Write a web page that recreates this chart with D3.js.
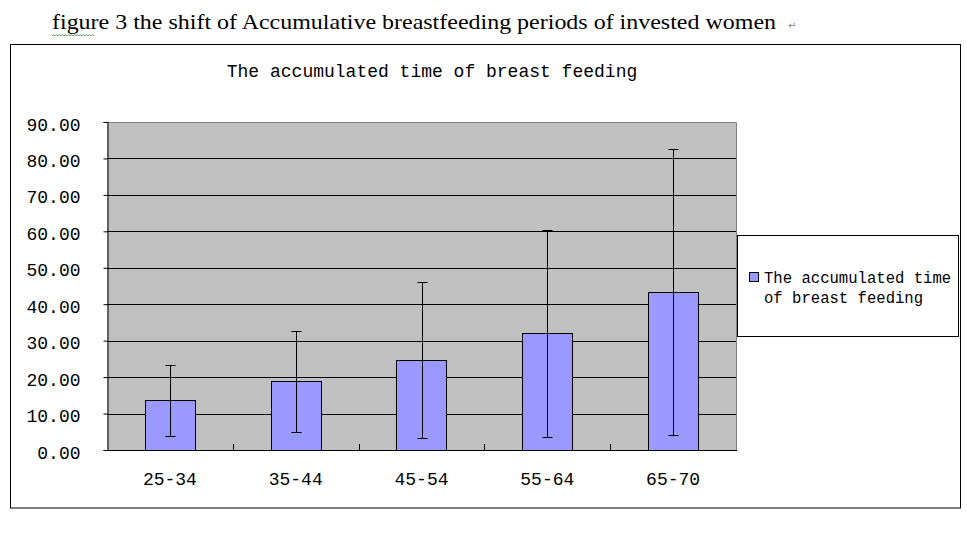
<!DOCTYPE html>
<html>
<head>
<meta charset="utf-8">
<script src="https://cdn.jsdelivr.net/npm/d3@7"></script>
<style>
  html, body { margin: 0; padding: 0; background: #ffffff; }
  svg { display: block; }
</style>
</head>
<body>
<script>
// ---- data ----
const categories = ["25-34", "35-44", "45-54", "55-64", "65-70"];
const meanValues = [13.6, 18.8, 24.7, 32.0, 43.3];
const errorValues = [9.8, 13.9, 21.5, 28.4, 39.3];
const yTicks = [0, 10, 20, 30, 40, 50, 60, 70, 80, 90];
const seriesName = "The accumulated time of breast feeding";
const chartTitle = "The accumulated time of breast feeding";
const captionText = "figure 3 the shift of Accumulative breastfeeding periods of invested women";

const W = 967, H = 534;
const svg = d3.select("body").append("svg").attr("width", W).attr("height", H);

const plot = { left: 107, right: 736, top: 122, bottom: 450 };
const mono = "'Liberation Mono', 'DejaVu Sans Mono', monospace";

// caption above chart
svg.append("text")
  .attr("x", 52).attr("y", 29)
  .attr("font-family", "'Liberation Serif', 'DejaVu Serif', serif")
  .attr("font-size", 21)
  .attr("textLength", 724).attr("lengthAdjust", "spacingAndGlyphs")
  .attr("fill", "#000")
  .text(captionText);
// wavy underline under "figure"
(function () {
  let p = "M52,36";
  for (let x = 52; x < 92; x += 3) p += ` L${x + 1.5},34.5 L${x + 3},36`;
  svg.append("path").attr("d", p).attr("fill", "none").attr("stroke", "#3a9a3a").attr("stroke-width", 0.8);
})();
svg.append("text")
  .attr("x", 788).attr("y", 29)
  .attr("font-family", "'DejaVu Sans', sans-serif")
  .attr("font-size", 10).attr("fill", "#888")
  .text("\u21B5");

// chart outer border
svg.append("rect")
  .attr("x", 10.5).attr("y", 44.5).attr("width", 950).attr("height", 463.5)
  .attr("fill", "#fff").attr("stroke", "#000").attr("stroke-width", 1);

// chart title
svg.append("text")
  .attr("x", 432).attr("y", 77)
  .attr("text-anchor", "middle")
  .attr("font-family", mono).attr("font-size", 18)
  .attr("fill", "#000")
  .text(chartTitle);

// scales
const x = d3.scaleBand().domain(categories).range([plot.left, plot.right]).padding(0);
const y = d3.scaleLinear().domain([0, 90]).range([plot.bottom, plot.top]);
const barW = x.bandwidth() / 2.5;

// plot background
svg.append("rect")
  .attr("x", plot.left).attr("y", plot.top)
  .attr("width", plot.right - plot.left).attr("height", plot.bottom - plot.top)
  .attr("fill", "#c0c0c0");
// gray top/right frame
svg.append("path")
  .attr("d", `M${plot.left},${plot.top + 0.5} H${plot.right + 0.5} V${plot.bottom}`)
  .attr("fill", "none").attr("stroke", "#808080").attr("stroke-width", 1);

// gridlines
svg.append("g").selectAll("line")
  .data(yTicks.filter(t => t > 0 && t < 90))
  .join("line")
  .attr("x1", plot.left).attr("x2", plot.right)
  .attr("y1", d => Math.round(y(d)) + 0.5).attr("y2", d => Math.round(y(d)) + 0.5)
  .attr("stroke", "#000").attr("stroke-width", 1);

// y axis
const yAxis = d3.axisLeft(y).tickValues(yTicks).tickFormat(d => d3.format(".2f")(d)).tickSize(4).tickPadding(23);
const gy = svg.append("g").attr("transform", `translate(${plot.left + 0.5},0)`).call(yAxis);
gy.select(".domain").attr("stroke", "#000");
gy.selectAll(".tick line").attr("stroke", "#000");
gy.selectAll(".tick text")
  .attr("font-family", mono).attr("font-size", 18).attr("fill", "#000").attr("dy", "0.45em");

// bars
svg.append("g").selectAll("rect")
  .data(categories)
  .join("rect")
  .attr("x", (d) => Math.round(x(d) + (x.bandwidth() - barW) / 2) + 0.5)
  .attr("y", (d, i) => Math.round(y(meanValues[i])) + 0.5)
  .attr("width", Math.round(barW))
  .attr("height", (d, i) => Math.round(y(0)) - Math.round(y(meanValues[i])))
  .attr("fill", "#9999ff").attr("stroke", "#000").attr("stroke-width", 1);

// error bars
const eg = svg.append("g").attr("stroke", "#000").attr("stroke-width", 1);
categories.forEach((c, i) => {
  const cx = Math.round(x(c) + x.bandwidth() / 2) + 0.5;
  const yHi = Math.round(y(meanValues[i] + errorValues[i])) + 0.5;
  const yLo = Math.round(y(meanValues[i] - errorValues[i])) + 0.5;
  eg.append("line").attr("x1", cx).attr("x2", cx).attr("y1", yHi).attr("y2", yLo);
  eg.append("line").attr("x1", cx - 5).attr("x2", cx + 5).attr("y1", yHi).attr("y2", yHi);
  eg.append("line").attr("x1", cx - 5).attr("x2", cx + 5).attr("y1", yLo).attr("y2", yLo);
});

// x axis
const gx = svg.append("g").attr("transform", `translate(0,${Math.round(plot.bottom) + 0.5})`)
  .call(d3.axisBottom(x).tickSize(0).tickPadding(22));
gx.select(".domain").attr("stroke", "#000").attr("d", `M${plot.left},0H${plot.right + 1}`);
gx.selectAll(".tick text")
  .attr("font-family", mono).attr("font-size", 18).attr("fill", "#000");
// inner ticks at category boundaries
svg.append("g").selectAll("line")
  .data(categories.slice(1))
  .join("line")
  .attr("x1", d => Math.round(x(d)) + 0.5).attr("x2", d => Math.round(x(d)) + 0.5)
  .attr("y1", plot.bottom).attr("y2", plot.bottom - 6)
  .attr("stroke", "#000");

// legend
const lg = svg.append("g");
lg.append("rect")
  .attr("x", 737.5).attr("y", 235.5).attr("width", 221).attr("height", 101)
  .attr("fill", "#fff").attr("stroke", "#000");
lg.append("rect")
  .attr("x", 749.5).attr("y", 272.5).attr("width", 9).attr("height", 9)
  .attr("fill", "#9999ff").attr("stroke", "#000");
const words = seriesName.split(" ");
const line1 = words.slice(0, 3).join(" ");
const line2 = words.slice(3).join(" ");
lg.append("text").attr("x", 764).attr("y", 283)
  .attr("font-family", mono).attr("font-size", 15.6).attr("fill", "#000").text(line1);
lg.append("text").attr("x", 764).attr("y", 303)
  .attr("font-family", mono).attr("font-size", 15.6).attr("fill", "#000").text(line2);
</script>
</body>
</html>
